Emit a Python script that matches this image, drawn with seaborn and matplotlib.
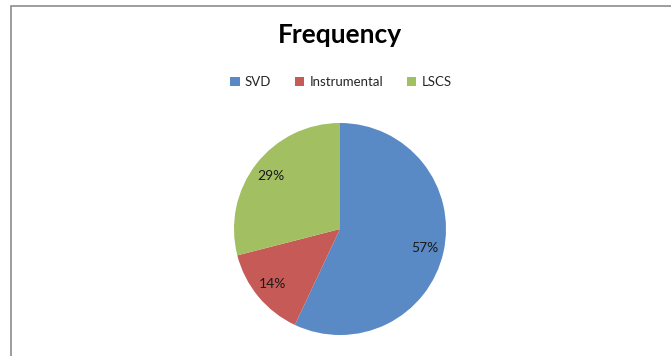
import matplotlib
matplotlib.use("Agg")
import matplotlib.pyplot as plt
import seaborn as sns
from matplotlib.patches import Rectangle, Patch

categories = ["SVD", "Instrumental", "LSCS"]
values = [57, 14, 29]
colors = ["#598AC5", "#C65A57", "#A2BF62"]
title = "Frequency"

sns.set_theme(style="white")
plt.rcParams['font.family'] = ['Lato', 'DejaVu Sans']

W, H = 671, 356
fig = plt.figure(figsize=(W / 100, H / 100), dpi=100)
fig.patch.set_facecolor("white")

# chart border
fig.add_artist(Rectangle((11 / W, -0.05), 1.1, (H - 6) / H + 0.05, transform=fig.transFigure,
                         fill=False, edgecolor="#8c8c8c", linewidth=1.2))

cx, cy, r = 340, 229, 106
ax = fig.add_axes([(cx - r) / W, (H - cy - r) / H, 2 * r / W, 2 * r / H])
wedges, texts, autotexts = ax.pie(values, colors=colors, startangle=90, counterclock=False,
                                  autopct="%1.0f%%", pctdistance=0.82,
                                  wedgeprops=dict(linewidth=0, edgecolor="none"),
                                  textprops=dict(fontsize=10, color="#1a1a1a"))
ax.set_xlim(-1, 1)
ax.set_ylim(-1, 1)
ax.set_aspect("equal")
ax.axis("off")

fig.text(cx / W, 1 - 35 / H, title, ha="center", va="center", fontsize=19, fontweight="bold", color="black")

handles = [Patch(facecolor=c, edgecolor="none") for c in colors]
fig.legend(handles, categories, loc="center", bbox_to_anchor=(341 / W, 1 - 82 / H), ncol=3,
           frameon=False, fontsize=9.5, handlelength=0.7, handleheight=0.7, handletextpad=0.4,
           columnspacing=1.8)

fig.savefig("out.png", dpi=100)
